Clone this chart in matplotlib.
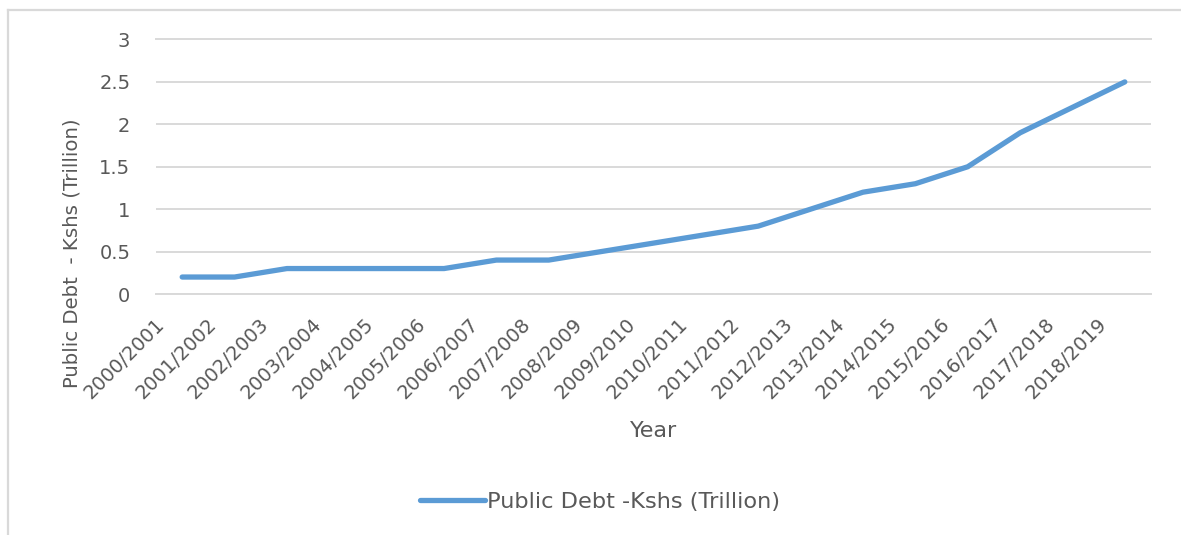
import matplotlib
matplotlib.use('Agg')
import matplotlib.pyplot as plt
import matplotlib.transforms as mtransforms
from matplotlib.lines import Line2D

plt.rc('font', family='DejaVu Sans')

years = ['2000/2001', '2001/2002', '2002/2003', '2003/2004', '2004/2005',
         '2005/2006', '2006/2007', '2007/2008', '2008/2009', '2009/2010',
         '2010/2011', '2011/2012', '2012/2013', '2013/2014', '2014/2015',
         '2015/2016', '2016/2017', '2017/2018', '2018/2019']
debt = [0.2, 0.2, 0.3, 0.3, 0.3, 0.3, 0.4, 0.4, 0.5, 0.6,
        0.7, 0.8, 1.0, 1.2, 1.3, 1.5, 1.9, 2.2, 2.5]
y_ticks = [0, 0.5, 1, 1.5, 2, 2.5, 3]
y_tick_labels = ['0', '0.5', '1', '1.5', '2', '2.5', '3']

W, H = 1181, 535
text_col = '#595959'
grid_col = '#D9D9D9'
blue = '#5B9BD5'

fig = plt.figure(figsize=(W / 100, H / 100), dpi=100)
ax = fig.add_axes([156 / W, 1 - 294 / H, (1151 - 156) / W, (294 - 39.5) / H])

x = list(range(len(years)))
ax.plot(x, debt, color=blue, linewidth=3.8, solid_capstyle='round',
        solid_joinstyle='round', label='Public Debt -Kshs (Trillion)')

ax.set_xlim(-0.5, len(years) - 0.5)
ax.set_ylim(0, 3)
ax.set_yticks(y_ticks)
ax.set_yticklabels(y_tick_labels)
ax.grid(axis='y', color=grid_col, linewidth=1.4)
ax.set_axisbelow(True)
for s in ['right', 'left']:
    ax.spines[s].set_visible(False)
for s in ['top', 'bottom']:
    ax.spines[s].set_color(grid_col)
    ax.spines[s].set_linewidth(1.4)

ax.tick_params(axis='y', length=0, pad=18.5, labelsize=14, labelcolor=text_col)
ax.tick_params(axis='x', length=0, pad=0, labelsize=14, labelcolor=text_col)
ax.set_xticks(x)
ax.set_xticklabels(years, rotation=45, ha='right', va='center',
                   rotation_mode='anchor')
offset = mtransforms.ScaledTranslation(-21 / 100, -27 / 100, fig.dpi_scale_trans)
for lab in ax.get_xticklabels():
    lab.set_transform(lab.get_transform() + offset)

fig.text(72 / W, 1 - 253 / H, 'Public Debt  - Kshs (Trillion)', rotation=90,
         ha='center', va='center', fontsize=14.2, color=text_col)
fig.text(654 / W, 1 - 431 / H, 'Year', ha='center', va='center',
         fontsize=16, color=text_col)

fig.legend(loc='center', bbox_to_anchor=(600 / W, 1 - 502 / H), frameon=False,
           fontsize=16.2, labelcolor=text_col, handlelength=2.9,
           handletextpad=0.1)

# chart frame (cropped: only top and left edges visible)
fig.add_artist(Line2D([8 / W, 1], [1 - 10 / H, 1 - 10 / H], color=grid_col,
                      linewidth=1.6, transform=fig.transFigure))
fig.add_artist(Line2D([8 / W, 8 / W], [1 - 10 / H, 0], color=grid_col,
                      linewidth=1.6, transform=fig.transFigure))

fig.savefig('out.png', dpi=100)
